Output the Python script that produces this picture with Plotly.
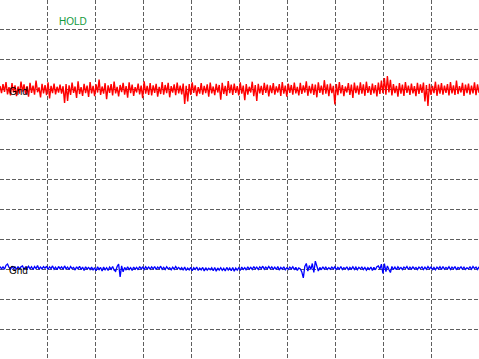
import numpy as np
import plotly.graph_objects as go

# Channel traces (values in vertical divisions, 0 = screen centre)
ch1_red = [
    3.12, 2.88, 3.18, 2.92, 3.25, 2.84, 3.08, 2.80, 3.21, 2.90, 3.14, 2.78, 3.10, 2.86, 3.26, 2.93, 3.17, 2.85, 3.11, 2.76,
    3.22, 2.89, 3.13, 2.83, 3.30, 2.91, 3.07, 2.74, 3.19, 2.87, 3.15, 2.81, 3.24, 2.70, 3.12, 2.88, 3.20, 2.84, 3.09, 2.90,
    3.16, 2.86, 3.11, 2.55, 3.18, 2.62, 3.14, 2.82, 3.23, 2.89, 3.10, 2.72, 3.27, 2.85, 3.08, 2.79, 3.19, 2.88, 3.13, 2.75,
    3.25, 2.87, 3.12, 2.78, 3.17, 2.90, 3.33, 2.82, 3.10, 2.86, 3.21, 2.68, 3.14, 2.89, 3.18, 2.80, 3.26, 2.87, 3.09, 2.77,
    3.15, 2.91, 3.22, 2.83, 3.11, 2.73, 3.24, 2.88, 3.16, 2.79, 3.08, 2.90, 3.20, 2.84, 3.13, 2.71, 3.27, 2.86, 3.12, 2.82,
    3.21, 2.80, 3.14, 2.89, 3.19, 2.76, 3.09, 2.85, 3.25, 2.83, 3.15, 2.88, 3.22, 2.74, 3.11, 2.90, 3.17, 2.81, 3.23, 2.87,
    3.13, 2.84, 3.20, 2.52, 3.12, 2.60, 3.18, 2.82, 3.24, 2.89, 3.14, 2.78, 3.08, 2.86, 3.21, 2.83, 3.12, 2.88, 3.17, 2.76,
    3.23, 2.87, 3.10, 2.81, 3.19, 2.90, 3.15, 2.66, 3.22, 2.85, 3.12, 2.79, 3.28, 2.88, 3.16, 2.82, 3.20, 2.89, 3.11, 2.80,
    3.24, 2.86, 3.13, 2.64, 3.18, 2.83, 3.09, 2.90, 3.26, 2.78, 3.15, 2.62, 3.19, 2.87, 3.12, 2.82, 3.22, 2.89, 3.16, 2.77,
    3.14, 2.88, 3.21, 2.83, 3.10, 2.90, 3.18, 2.79, 3.25, 2.86, 3.13, 2.76, 3.20, 2.89, 3.15, 2.83, 3.23, 2.87, 3.09, 2.80,
    3.22, 2.85, 3.14, 2.90, 3.27, 2.79, 3.12, 2.87, 3.19, 2.82, 3.16, 2.74, 3.24, 2.89, 3.13, 2.83, 3.31, 2.86, 3.17, 2.78,
    3.20, 2.88, 3.12, 2.50, 3.18, 2.81, 3.25, 2.87, 3.15, 2.78, 3.10, 2.90, 3.21, 2.82, 3.16, 2.72, 3.23, 2.88, 3.13, 2.83,
    3.24, 2.86, 3.17, 2.79, 3.26, 2.89, 3.11, 2.82, 3.20, 2.87, 3.15, 2.77, 3.23, 2.85, 3.30, 2.88, 3.38, 2.83, 3.45, 2.90,
    3.32, 2.80, 3.18, 2.88, 3.12, 2.76, 3.21, 2.86, 3.16, 2.79, 3.25, 2.89, 3.13, 2.82, 3.20, 2.87, 3.11, 2.78, 3.22, 2.85,
    3.17, 2.89, 3.23, 2.60, 3.15, 2.45, 3.19, 2.82, 3.12, 2.88, 3.26, 2.79, 3.16, 2.86, 3.21, 2.83, 3.13, 2.89, 3.18, 2.80,
    3.25, 2.87, 3.14, 2.82, 3.30, 2.85, 3.11, 2.90, 3.22, 2.79, 3.16, 2.88, 3.20, 2.83, 3.13, 2.87, 3.24, 2.81, 3.17, 2.89,
]

ch2_blue = [
    -2.90, -2.98, -2.91, -2.99, -2.86, -2.82, -2.93, -2.99, -2.89, -2.97, -2.92, -3.00, -2.90, -2.98, -2.91, -2.88, -2.99, -2.92, -2.97, -2.89,
    -2.98, -2.91, -3.00, -2.90, -2.97, -2.87, -2.99, -2.92, -2.98, -2.90, -2.96, -2.89, -3.00, -2.91, -2.97, -2.88, -2.99, -2.92, -3.01, -2.90,
    -2.97, -2.91, -2.99, -2.88, -2.98, -2.92, -3.00, -2.90, -2.97, -2.93, -3.02, -2.91, -2.98, -2.89, -3.00, -2.92, -3.03, -2.91, -2.98, -2.93,
    -3.00, -2.92, -3.02, -2.94, -3.04, -2.91, -3.00, -2.93, -3.05, -2.92, -3.01, -2.94, -3.03, -2.92, -2.99, -2.90, -3.02, -3.06, -2.90, -2.82,
    -3.25, -2.88, -3.08, -2.93, -3.02, -2.91, -3.00, -2.94, -3.03, -2.92, -2.99, -2.93, -3.01, -2.90, -2.98, -2.92, -3.00, -2.91, -2.98, -2.92,
    -2.99, -2.91, -2.98, -2.90, -3.00, -2.92, -2.97, -2.89, -2.99, -2.93, -3.00, -2.91, -2.98, -2.94, -3.01, -2.92, -2.99, -2.90, -2.98, -2.93,
    -3.00, -2.94, -3.02, -2.92, -3.03, -2.95, -3.01, -2.93, -3.04, -2.94, -3.00, -2.92, -3.03, -2.95, -3.01, -2.93, -3.05, -2.94, -3.02, -2.96,
    -3.01, -2.94, -3.04, -2.93, -3.06, -2.95, -3.02, -2.94, -3.03, -2.96, -3.05, -2.93, -3.02, -2.95, -3.04, -2.93, -3.06, -2.95, -3.02, -2.94,
    -3.03, -2.92, -3.00, -2.94, -3.02, -2.91, -2.99, -2.93, -3.00, -2.90, -2.98, -2.92, -3.00, -2.91, -2.97, -2.89, -2.99, -2.92, -2.98, -2.90,
    -2.98, -2.91, -2.99, -2.92, -3.00, -2.90, -3.02, -2.93, -2.99, -2.91, -3.01, -2.94, -3.00, -2.92, -2.98, -2.91, -3.01, -2.93, -3.03, -2.95,
    -2.98, -3.08, -3.28, -2.90, -2.80, -3.05, -2.87, -3.00, -2.80, -3.10, -2.72, -2.90, -3.05, -2.93, -3.01, -2.91, -2.99, -2.92, -3.00, -2.94,
    -2.99, -2.92, -2.98, -2.91, -3.01, -2.93, -2.99, -2.90, -3.00, -2.94, -2.98, -2.91, -3.02, -2.93, -2.99, -2.91, -3.00, -2.92, -3.01, -2.93,
    -2.98, -2.92, -3.00, -2.93, -3.02, -2.94, -3.00, -2.92, -3.03, -2.93, -3.01, -2.91, -2.88, -2.99, -2.82, -3.13, -2.80, -3.07, -2.88, -3.00,
    -3.10, -2.90, -3.00, -2.92, -3.01, -2.91, -2.98, -2.93, -3.00, -2.92, -2.97, -2.90, -3.00, -2.92, -2.99, -2.91, -2.98, -2.93, -3.00, -2.92,
    -2.97, -2.91, -3.00, -2.92, -2.99, -2.90, -2.98, -2.92, -3.00, -2.93, -3.01, -2.92, -2.98, -2.91, -3.00, -2.90, -2.99, -2.93, -2.98, -2.91,
    -3.00, -2.92, -2.98, -2.90, -3.01, -2.93, -2.97, -2.91, -2.99, -2.92, -3.00, -2.94, -2.98, -2.91, -2.99, -2.90, -2.97, -2.92, -3.00, -2.91,
]

ground_levels = [3.0, -2.97]
ground_labels = ["Gnd", "Gnd"]
status_text = "HOLD"

W, H = 479, 359
x0 = 1 - 47.5 / 48
x1 = x0 + W / 48
y1 = 179.5 / 30
y0 = -y1

t_red = np.linspace(x0, x1, len(ch1_red))
t_blue = np.linspace(x0, x1, len(ch2_blue))

fig = go.Figure()
fig.add_trace(go.Scatter(x=t_red, y=ch1_red, mode="lines",
                         line=dict(color="#ff0000", width=1.4), hoverinfo="skip"))
fig.add_trace(go.Scatter(x=t_blue, y=ch2_blue, mode="lines",
                         line=dict(color="#0000ff", width=1.3), hoverinfo="skip"))

for lvl, lab in zip(ground_levels, ground_labels):
    fig.add_annotation(x=7 / 48 + x0, y=lvl, xref="x", yref="y", text=lab, showarrow=False,
                       xanchor="left", yanchor="middle", yshift=-2,
                       font=dict(family="Liberation Sans, Arial, sans-serif", size=10, color="#000000"))

fig.add_annotation(x=57 / W, y=1 - 21.5 / H, xref="paper", yref="paper", text=status_text,
                   showarrow=False, xanchor="left", yanchor="middle",
                   font=dict(family="Liberation Sans, Arial, sans-serif", size=10, color="#129a3c"))

axis_common = dict(showgrid=True, gridcolor="#5e5e5e", gridwidth=1, griddash="4px,2px",
                   zeroline=False, showticklabels=False, ticks="", showline=False, dtick=1, tick0=0)

fig.update_layout(
    width=W, height=H, margin=dict(l=0, r=0, t=0, b=0),
    paper_bgcolor="#ffffff", plot_bgcolor="#ffffff", showlegend=False,
    xaxis=dict(range=[x0, x1], **axis_common),
    yaxis=dict(range=[y0, y1], **axis_common),
)

fig.write_html("out.html")
